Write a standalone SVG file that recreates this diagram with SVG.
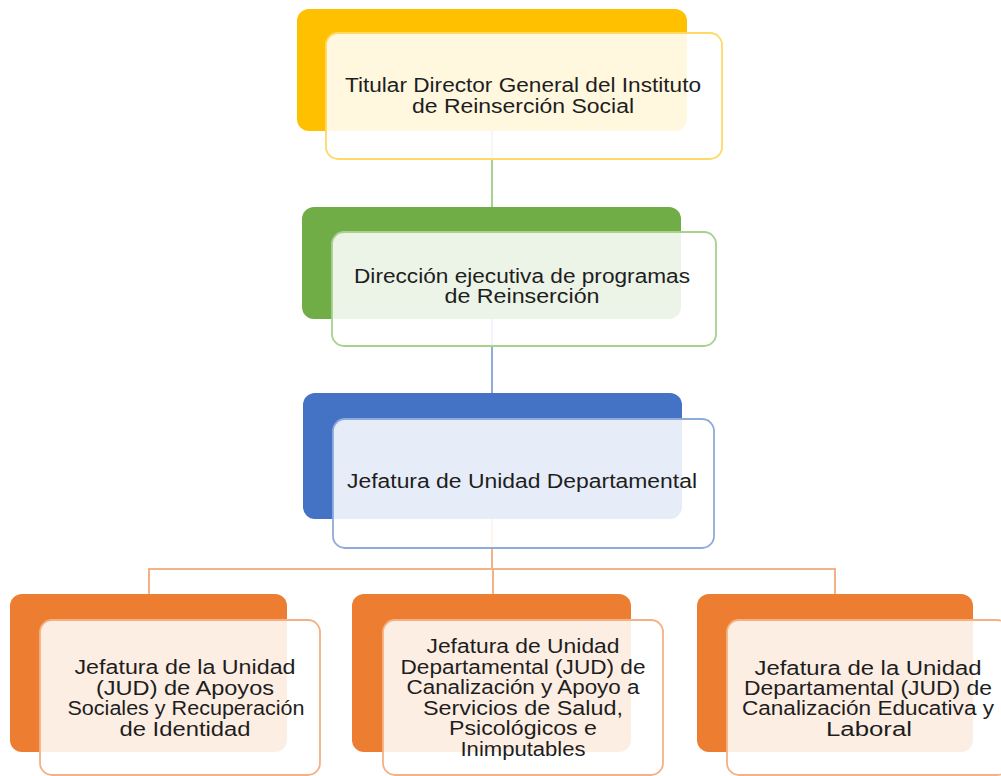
<svg xmlns="http://www.w3.org/2000/svg" width="1001" height="776" viewBox="0 0 1001 776">
<style>
.back{stroke:none}
.front{fill:#ffffff;fill-opacity:0.87;stroke-width:1.8}
.t{font-family:"Liberation Sans",Arial,sans-serif;font-size:20px;fill:#1e1e1e;text-anchor:middle}
.c{fill:none;stroke-width:2}
</style>
<rect width="1001" height="776" fill="#ffffff"/>
<g id="connectors">
<line class="c" x1="492" y1="131" x2="492" y2="207" stroke="#a9d18e"/>
<line class="c" x1="492" y1="319" x2="492" y2="393" stroke="#8faadc"/>
<path class="c" d="M492 519 V569 M149 594 V569 H835 V594 M493 569 V594" stroke="#f4b183"/>
</g>
<g id="n1">
<rect class="back" x="297" y="9" width="390" height="122" rx="12" fill="#ffc000"/>
<rect class="front" x="326" y="33" width="396" height="126" rx="12" stroke="#ffd966"/>
<text class="t"><tspan x="523" y="92" textLength="356" lengthAdjust="spacingAndGlyphs">Titular Director General del Instituto</tspan><tspan x="523" y="112.5" textLength="222" lengthAdjust="spacingAndGlyphs">de Reinserción Social</tspan></text>
</g>
<g id="n2">
<rect class="back" x="302" y="207" width="379" height="112" rx="12" fill="#70ad47"/>
<rect class="front" x="332" y="232" width="384" height="114" rx="12" stroke="#a9d18e"/>
<text class="t"><tspan x="522" y="283" textLength="336" lengthAdjust="spacingAndGlyphs">Dirección ejecutiva de programas</tspan><tspan x="522" y="303" textLength="155" lengthAdjust="spacingAndGlyphs">de Reinserción</tspan></text>
</g>
<g id="n3">
<rect class="back" x="303" y="393" width="379" height="126" rx="12" fill="#4472c4"/>
<rect class="front" x="333" y="419" width="381" height="129" rx="12" stroke="#8faadc"/>
<text class="t"><tspan x="522" y="488" textLength="350" lengthAdjust="spacingAndGlyphs">Jefatura de Unidad Departamental</tspan></text>
</g>
<g id="n4">
<rect class="back" x="10" y="594" width="277" height="158" rx="12" fill="#ed7d31"/>
<rect class="front" x="40" y="620" width="280" height="155" rx="12" stroke="#f4b183"/>
<text class="t"><tspan x="185" y="674" textLength="221" lengthAdjust="spacingAndGlyphs">Jefatura de la Unidad</tspan><tspan x="185" y="694.5" textLength="178" lengthAdjust="spacingAndGlyphs">(JUD) de Apoyos</tspan><tspan x="186" y="715" textLength="237" lengthAdjust="spacingAndGlyphs">Sociales y Recuperación</tspan><tspan x="185" y="735.5" textLength="131" lengthAdjust="spacingAndGlyphs">de Identidad</tspan></text>
</g>
<g id="n5">
<rect class="back" x="352" y="594" width="279" height="158" rx="12" fill="#ed7d31"/>
<rect class="front" x="383" y="620" width="280" height="155" rx="12" stroke="#f4b183"/>
<text class="t"><tspan x="523" y="653" textLength="193" lengthAdjust="spacingAndGlyphs">Jefatura de Unidad</tspan><tspan x="523" y="673.5" textLength="245" lengthAdjust="spacingAndGlyphs">Departamental (JUD) de</tspan><tspan x="523" y="694" textLength="233" lengthAdjust="spacingAndGlyphs">Canalización y Apoyo a</tspan><tspan x="523" y="714.5" textLength="200" lengthAdjust="spacingAndGlyphs">Servicios de Salud,</tspan><tspan x="523" y="735" textLength="148" lengthAdjust="spacingAndGlyphs">Psicológicos e</tspan><tspan x="523" y="755.5" textLength="125" lengthAdjust="spacingAndGlyphs">Inimputables</tspan></text>
</g>
<g id="n6">
<rect class="back" x="697" y="594" width="276" height="158" rx="12" fill="#ed7d31"/>
<rect class="front" x="727" y="620" width="282" height="155" rx="12" stroke="#f4b183"/>
<text class="t"><tspan x="868" y="674.5" textLength="227" lengthAdjust="spacingAndGlyphs">Jefatura de la Unidad</tspan><tspan x="868" y="695" textLength="248" lengthAdjust="spacingAndGlyphs">Departamental (JUD) de</tspan><tspan x="868" y="715" textLength="252" lengthAdjust="spacingAndGlyphs">Canalización Educativa y</tspan><tspan x="869" y="735.5" textLength="86" lengthAdjust="spacingAndGlyphs">Laboral</tspan></text>
</g>
</svg>
